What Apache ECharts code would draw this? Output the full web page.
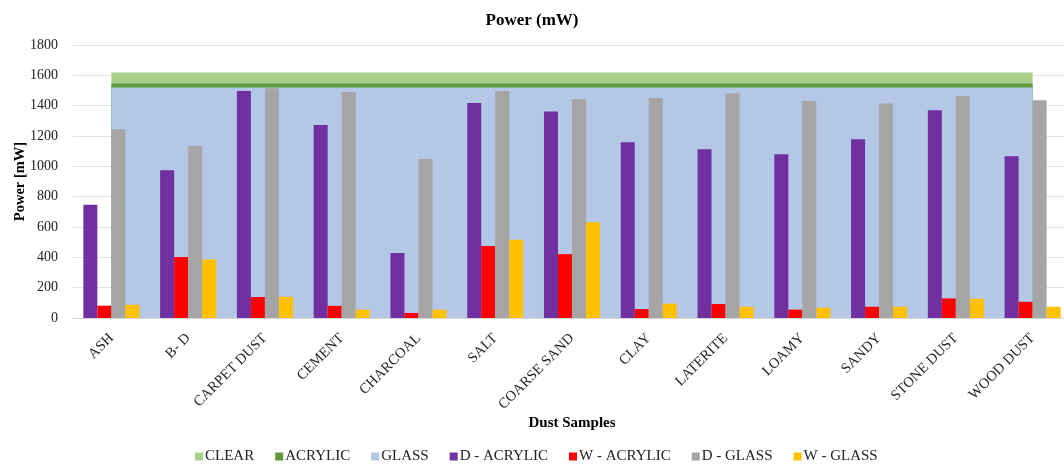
<!DOCTYPE html>
<html>
<head>
<meta charset="utf-8">
<script src="https://cdn.jsdelivr.net/npm/echarts@6/dist/echarts.min.js"></script>
<style>
  html, body { margin: 0; padding: 0; background: #fff; }
  #chart { width: 1064px; height: 464px; }
</style>
</head>
<body>
<div id="chart"></div>
<script>
// Dust sample categories
const categories = ['ASH', 'B- D', 'CARPET DUST', 'CEMENT', 'CHARCOAL', 'SALT', 'COARSE SAND',
  'CLAY', 'LATERITE', 'LOAMY', 'SANDY', 'STONE DUST', 'WOOD DUST'];

// Reference levels (clean panels), mW
const clearLevel = 1618;
const acrylicLevel = 1546;
const glassLevel = 1520;

// Measured power per sample, mW
const dAcrylic = [746, 975, 1497, 1273, 428, 1418, 1361, 1159, 1113, 1080, 1179, 1370, 1067];
const wAcrylic = [81, 402, 138, 80, 33, 474, 421, 59, 92, 55, 74, 129, 107];
const dGlass = [1245, 1135, 1515, 1490, 1049, 1497, 1442, 1451, 1480, 1431, 1414, 1464, 1436];
const wGlass = [88, 386, 140, 55, 55, 516, 632, 94, 74, 68, 74, 127, 74];

// Y axis ticks
const yMin = 0, yMax = 1800, yStep = 200;

const serif = '"Liberation Serif", "DejaVu Serif", serif';

function levelSeries(name, value, color, z) {
  return {
    name: name,
    type: 'line',
    data: categories.map(() => value),
    symbol: 'none',
    lineStyle: { width: 0 },
    areaStyle: { color: color, opacity: 1 },
    itemStyle: { color: color },
    z: z,
    silent: true
  };
}

function barSeries(name, data, color) {
  return {
    name: name,
    type: 'bar',
    data: data,
    barGap: '0%',
    barCategoryGap: '27%',
    itemStyle: { color: color },
    z: 5
  };
}

const chart = echarts.init(document.getElementById('chart'), null, { renderer: 'canvas' });
chart.setOption({
  animation: false,
  backgroundColor: '#ffffff',
  title: {
    text: 'Power (mW)',
    left: 'center',
    top: 7,
    textStyle: { fontFamily: serif, fontSize: 17, fontWeight: 'bold', color: '#000' }
  },
  legend: {
    top: 449,
    left: 195,
    padding: 0,
    itemWidth: 8,
    itemHeight: 8,
    itemGap: 21,
    icon: 'rect',
    textStyle: { fontFamily: serif, fontSize: 15, color: '#222', padding: [0, 0, 0, -3] },
    data: ['CLEAR', 'ACRYLIC', 'GLASS', 'D - ACRYLIC', 'W - ACRYLIC', 'D - GLASS', 'W - GLASS']
  },
  grid: { left: 73, right: -7, top: 45, bottom: 146, containLabel: false, outerBoundsMode: 'none' },
  xAxis: {
    type: 'category',
    data: categories,
    boundaryGap: true,
    name: 'Dust Samples',
    nameLocation: 'middle',
    nameGap: 98,
    nameMoveOverlap: false,
    nameTextStyle: { fontFamily: serif, fontSize: 15, fontWeight: 'bold', color: '#000' },
    axisLine: { lineStyle: { color: '#d9d9d9', width: 1 } },
    axisTick: { show: false },
    axisLabel: {
      interval: 0,
      rotate: 45,
      margin: 18,
      fontFamily: serif,
      fontSize: 14.5,
      color: '#222'
    }
  },
  yAxis: {
    type: 'value',
    min: yMin,
    max: yMax,
    interval: yStep,
    name: 'Power [mW]',
    nameLocation: 'middle',
    nameGap: 45,
    nameMoveOverlap: false,
    nameTextStyle: { fontFamily: serif, fontSize: 14.5, fontWeight: 'bold', color: '#000' },
    axisLine: { show: false },
    axisTick: { show: false },
    splitLine: { lineStyle: { color: '#e3e3e3', width: 1 } },
    axisLabel: {
      margin: 15,
      fontFamily: serif,
      fontSize: 14,
      color: '#222',
      formatter: (v) => String(v)
    }
  },
  series: [
    levelSeries('CLEAR', clearLevel, '#a9d18e', 1),
    levelSeries('ACRYLIC', acrylicLevel, '#5f9a3d', 2),
    levelSeries('GLASS', glassLevel, '#b4c7e7', 3),
    barSeries('D - ACRYLIC', dAcrylic, '#7030a0'),
    barSeries('W - ACRYLIC', wAcrylic, '#ff0000'),
    barSeries('D - GLASS', dGlass, '#a5a5a5'),
    barSeries('W - GLASS', wGlass, '#ffc000')
  ]
});
</script>
</body>
</html>
